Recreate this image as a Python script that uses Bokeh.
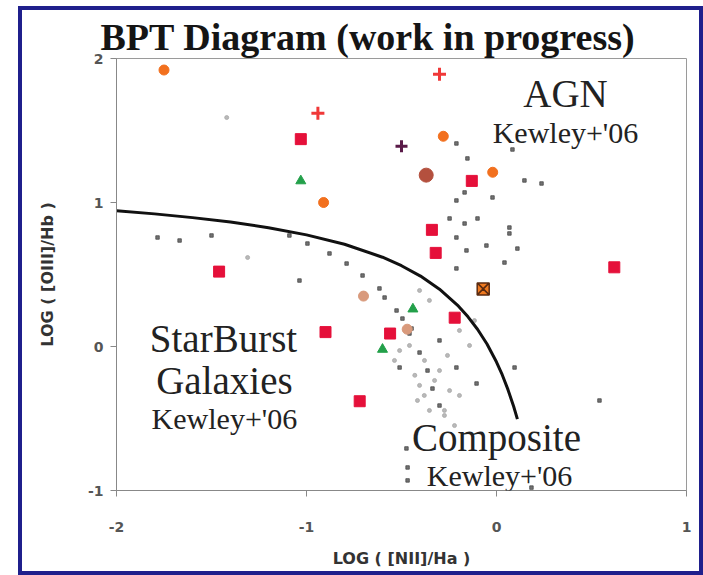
from bokeh.plotting import figure
from bokeh.models import Range1d, Label, FixedTicker
from bokeh.embed import file_html
from bokeh.resources import INLINE

# ---- data ----
# Kewley demarcation curve
curve_x = [-2.0, -1.8, -1.6, -1.4, -1.2, -1.0, -0.8, -0.6, -0.5, -0.4, -0.3, -0.2,
           -0.15, -0.1, -0.05, 0.0, 0.03, 0.06, 0.09, 0.11]
curve_y = [0.943, 0.921, 0.895, 0.864, 0.825, 0.775, 0.710, 0.620, 0.561, 0.489, 0.398,
           0.280, 0.206, 0.120, 0.017, -0.108, -0.196, -0.298, -0.415, -0.504]

red_sq_x = [-1.03, -0.13, -0.34, -0.32, 0.62, -1.46, -0.22, -0.90, -0.56, -0.72]
red_sq_y = [1.44, 1.15, 0.81, 0.65, 0.55, 0.52, 0.20, 0.10, 0.09, -0.38]

orange_x = [-1.75, -0.91, -0.28, -0.02]
orange_y = [1.92, 1.00, 1.46, 1.21]

brown_x = [-0.37]
brown_y = [1.19]

tan_x = [-0.70, -0.47]
tan_y = [0.35, 0.12]

orange_x_mark_x = [-0.07]
orange_x_mark_y = [0.40]

red_plus_x = [-0.94, -0.30]
red_plus_y = [1.62, 1.89]

purple_x = [-0.50]
purple_y = [1.39]

green_x = [-1.03, -0.44, -0.60]
green_y = [1.15, 0.26, -0.02]

dark_x = [-1.09, -0.995, -0.879, -0.789, -0.705, -0.616, -0.589, -0.526, -0.495, -0.447,
          -0.458, -0.405, -0.363, -0.337, -0.30, -0.30, -0.211, -0.105, -0.51,
          -0.211, -0.153, -0.168, -0.021, -0.211, -0.247, -0.168, -0.10, 0.068, 0.068,
          -0.211, -0.053, -0.158, 0.042, -0.211, 0.237, 0.147, 0.084, 0.11, 0.095,
          0.542, -0.474, -0.468, -0.468, 0.184, -1.784, -1.668, -1.50, -1.037]
dark_y = [0.771, 0.715, 0.646, 0.576, 0.493, 0.403, 0.340, 0.25, 0.194, 0.125,
          0.09, -0.042, -0.167, -0.292, -0.41, 0.042, -0.146, -0.257, -0.146,
          1.41, 1.306, 1.07, 1.035, 1.014, 0.889, 0.854, 0.889, 0.826, 0.785,
          0.757, 0.701, 0.667, 0.583, 0.542, 1.132, 1.153, 1.368, 0.68, -0.146,
          -0.375, -0.708, -0.84, -0.93, -0.98, 0.757, 0.736, 0.771, 0.458]

gray_x = [-0.43, -0.405, -0.38, -0.416, -0.353, -0.274, -0.326, -0.247, -0.195, -0.30,
          -0.379, -0.51, -0.537, -0.458, -0.258, -0.142, -0.195, -0.116, -0.353, -0.405,
          -0.274, -0.221, -1.31, -1.42]
gray_y = [-0.20, -0.27, -0.34, -0.375, -0.444, -0.479, -0.236, -0.306, -0.34, -0.167,
          -0.097, -0.028, -0.097, 0.007, -0.062, 0.007, 0.111, 0.18, 0.32, 0.389,
          -0.444, -0.549, 0.618, 1.59]

x_ticks = [-2, -1, 0, 1]
y_ticks = [-1, 0, 1, 2]

# ---- figure ----
p = figure(width=685, height=569, output_backend="svg", toolbar_location=None,
           x_range=Range1d(-2, 1), y_range=Range1d(-1, 2),
           min_border_left=94, min_border_right=21, min_border_top=48, min_border_bottom=89)
# slide frame around the chart
p.styles = {"margin-left": "18px", "margin-top": "6px", "border": "4px solid #1f1f8c"}

p.background_fill_color = "white"
p.border_fill_color = "white"
p.outline_line_color = "#9a9a9a"
p.xgrid.visible = False
p.ygrid.visible = False

p.title.text = "BPT Diagram (work in progress)"
p.title.text_font = "Liberation Serif"
p.title.text_font_style = "bold"
p.title.text_font_size = "38px"
p.title.text_color = "#151515"
p.title.align = "left"
p.title.offset = -16
p.title.standoff = 2

for ax, ticks in ((p.xaxis, x_ticks), (p.yaxis, y_ticks)):
    ax.ticker = FixedTicker(ticks=ticks)
    ax.major_label_overrides = {t: str(t) for t in ticks}
    ax.axis_line_color = "#888888"
    ax.major_tick_line_color = "#888888"
    ax.major_tick_out = 6
    ax.major_tick_in = 0
    ax.minor_tick_line_color = None
    ax.major_label_text_font = "DejaVu Sans"
    ax.major_label_text_font_style = "bold"
    ax.major_label_text_font_size = "14px"
    ax.major_label_text_color = "#555555"
    ax.axis_label_text_font = "DejaVu Sans"
    ax.axis_label_text_font_style = "bold"
    ax.axis_label_text_font_size = "16px"
    ax.axis_label_text_color = "#333333"

p.xaxis.axis_label = "LOG ( [NII]/Ha )"
p.yaxis.axis_label = "LOG ( [OIII]/Hb )"
p.xaxis.major_label_standoff = 25
p.yaxis.major_label_standoff = 7
p.xaxis.axis_label_standoff = 14
p.yaxis.axis_label_standoff = 28

# small points
p.scatter(gray_x, gray_y, size=4, marker="circle", color="#a8a8a8", alpha=0.8)
p.scatter(dark_x, dark_y, size=3.5, marker="square", color="#444444", alpha=0.75)

# demarcation curve
p.line(curve_x, curve_y, line_color="#111111", line_width=3)

# coloured symbols
p.scatter(red_sq_x, red_sq_y, size=11, marker="square", color="#e5103a")
p.scatter(orange_x, orange_y, size=10, marker="circle", color="#f2701e")
p.scatter(brown_x, brown_y, size=14, marker="circle", color="#b4503e")
p.scatter(tan_x, tan_y, size=10, marker="circle", color="#d99a7c")
p.scatter(orange_x_mark_x, orange_x_mark_y, size=12, marker="square_x", fill_color="#f07a20",
          line_color="#5a2a10", line_width=1.5)
p.scatter(red_plus_x, red_plus_y, size=13, marker="cross", line_color="#f03838", line_width=3)
p.scatter(purple_x, purple_y, size=12, marker="cross", line_color="#5a1a48", line_width=3)
p.scatter(green_x, green_y, size=10, marker="triangle", color="#23a04a")

# region annotations
big = "39px"
small = "30px"
labels = [
    ("AGN", 0.363, 1.757, big),
    ("Kewley+'06", 0.363, 1.486, small),
    ("StarBurst", -1.437, 0.056, big),
    ("Galaxies", -1.432, -0.236, big),
    ("Kewley+'06", -1.432, -0.50, small),
    ("Composite", 0.0, -0.632, big),
    ("Kewley+'06", 0.016, -0.896, small),
]
for txt, lx, ly, fs in labels:
    p.add_layout(Label(x=lx, y=ly, text=txt, text_font="Liberation Serif",
                       text_font_size=fs, text_color="#222222",
                       text_align="center", text_baseline="middle"))

open("out.html", "w").write(file_html(p, INLINE))
